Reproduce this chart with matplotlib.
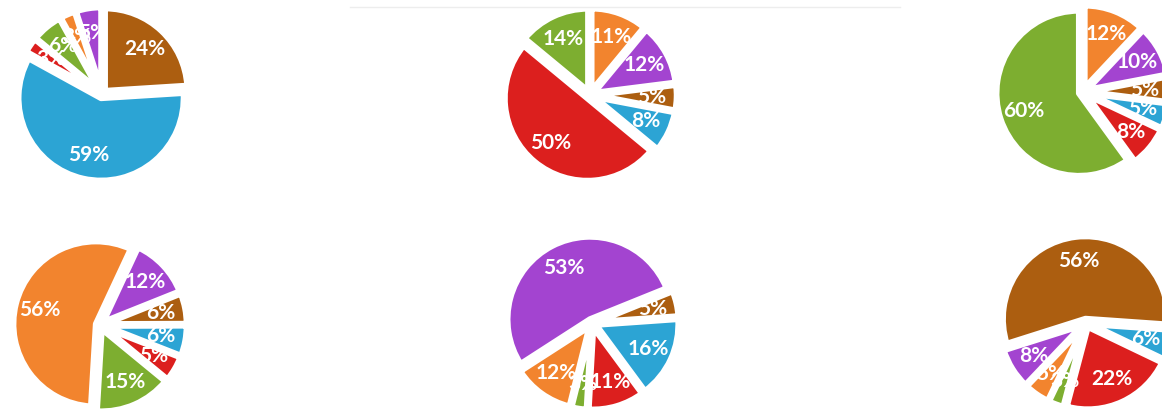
import matplotlib.pyplot as plt
from matplotlib.lines import Line2D

# slice order (clockwise): orange, purple, brown, blue, red, green
colors = ['#F2842E', '#A344D0', '#AC5E10', '#2CA4D4', '#DC1F1E', '#7DAE30']

pie1 = [3, 5, 24, 59, 3, 6]
pie2 = [11, 12, 5, 8, 50, 14]
pie3 = [12, 10, 5, 5, 8, 60]
pie4 = [56, 12, 6, 6, 5, 15]
pie5 = [12, 53, 5, 16, 11, 3]
pie6 = [5, 8, 56, 6, 22, 3]

pies = [pie1, pie2, pie3, pie4, pie5, pie6]
start = [118.8, 90, 90, 266.6, 256, 244.4]
# pie centres in pixels (x, y from top)
centres = [(102, 94), (590, 95), (1083, 92), (100, 325), (592, 323), (1086, 323)]

W, H = 1162, 412
fig = plt.figure(figsize=(W / 100, H / 100), dpi=100)

# faint panel border along the top
fig.add_artist(Line2D([350 / W, 900 / W], [1 - 7 / H, 1 - 7 / H],
                      color='#EDEDED', lw=1))

size = 182
for vals, sa, (cx, cy) in zip(pies, start, centres):
    ax = fig.add_axes([(cx - size / 2) / W, 1 - (cy + size / 2) / H, size / W, size / H])
    wedges, texts = ax.pie(vals, colors=colors, startangle=sa, counterclock=False,
                           explode=[0.05] * len(vals), labels=[f'{v}%' for v in vals],
                           labeldistance=0.7,
                           wedgeprops=dict(edgecolor='white', linewidth=4.5,
                                           joinstyle='round'),
                           textprops=dict(color='white', fontsize=15,
                                          fontweight='bold', family='Lato'))
    for t in texts:
        t.set_ha('center')
        t.set_va('center')
    ax.set_xlim(-1.1, 1.1)
    ax.set_ylim(-1.1, 1.1)
    ax.set_aspect('equal')
    ax.axis('off')

fig.savefig('out.png', dpi=100)
